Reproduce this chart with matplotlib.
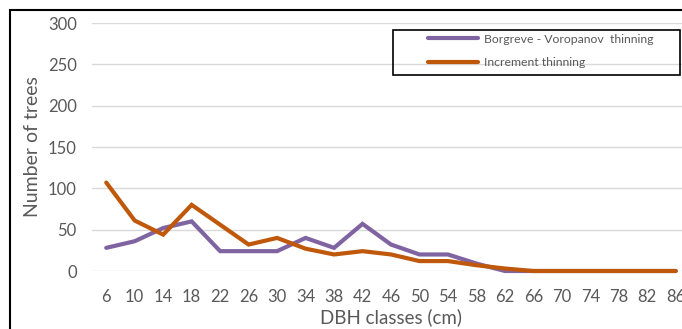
import matplotlib
matplotlib.use("Agg")
import matplotlib.pyplot as plt
from matplotlib.patches import Rectangle

categories = [6, 10, 14, 18, 22, 26, 30, 34, 38, 42, 46, 50, 54, 58, 62, 66, 70, 74, 78, 82, 86]
borgreve = [28, 36, 52, 60, 24, 24, 24, 40, 28, 57, 32, 20, 20, 9, 0, 0, 0, 0, 0, 0, 0]
increment = [107, 61, 44, 80, 56, 32, 40, 27, 20, 24, 20, 12, 12, 7, 3, 0, 0, 0, 0, 0, 0]
yticks = [0, 50, 100, 150, 200, 250, 300]

plt.rcParams['font.family'] = ['Lato', 'DejaVu Sans']
W, H = 682, 329
fig = plt.figure(figsize=(W/100, H/100), dpi=100)

# axes: x from 92 to 690 px, y from 271 (0) to 23 (300)
ax = fig.add_axes([92/W, (H-271)/H, (690-92)/W, (271-23)/H])
x = list(range(len(categories)))
ax.plot(x, borgreve, color='#8064A2', lw=3.0, solid_capstyle='round', solid_joinstyle='miter', label='Borgreve - Voropanov  thinning', clip_on=False)
ax.plot(x, increment, color='#C0580B', lw=3.0, solid_capstyle='round', solid_joinstyle='miter', label='Increment thinning', clip_on=False)
ax.set_xlim(-0.5, len(categories) - 0.5)
ax.set_ylim(0, 300)
ax.set_yticks(yticks)
ax.set_xticks(x)
ax.set_xticklabels([str(c) for c in categories])
ax.yaxis.grid(True, color='#D9D9D9', lw=1.0)
ax.set_axisbelow(True)
for s in ax.spines.values():
    s.set_visible(False)
ax.tick_params(length=0, colors='#595959', labelsize=12)
ax.tick_params(axis='x', pad=13)
ax.tick_params(axis='y', pad=11)
ax.set_xlabel('DBH classes (cm)', color='#595959', fontsize=13.5, labelpad=2)
ax.set_ylabel('Number of trees', color='#595959', fontsize=14, labelpad=5)

leg = ax.legend(loc='upper left', bbox_to_anchor=((424-92)/(690-92), (271-30)/(271-23)),
                frameon=False, fontsize=8.8, labelcolor='#595959',
                handlelength=4.1, handletextpad=0.5, borderpad=0.3, labelspacing=1.0,
                borderaxespad=0)

# legend box
fig.patches.append(Rectangle((393/W, (H-75)/H), (680-393)/W, 45/H, transform=fig.transFigure,
                             fill=False, edgecolor='black', lw=1.2))

# outer chart border (partly cropped)
fig.patches.append(Rectangle((10/W, -0.1), 1.2, (H-10)/H + 0.1, transform=fig.transFigure,
                             fill=False, edgecolor='black', lw=1.5))

fig.savefig('out.png', dpi=100)
